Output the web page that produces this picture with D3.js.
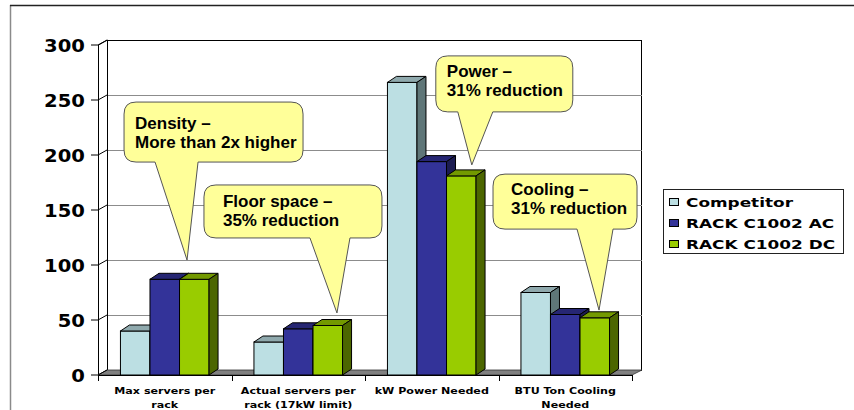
<!DOCTYPE html>
<html><head><meta charset="utf-8">
<script src="https://cdn.jsdelivr.net/npm/d3@7"></script>
<style>html,body{margin:0;padding:0;background:#fff;}svg{display:block;}</style>
</head><body>
<svg id="chart" width="854" height="410"></svg>
<script>
// ---- data ----
const categories = ["Max servers per rack", "Actual servers per rack (17kW limit)", "kW Power Needed", "BTU Ton Cooling Needed"];
const categoryLines = [["Max servers per", "rack"], ["Actual servers per", "rack (17kW limit)"], ["kW Power Needed"], ["BTU Ton Cooling", "Needed"]];
const seriesNames = ["Competitor", "RACK C1002 AC", "RACK C1002 DC"];
const competitor = [40, 30, 266, 75];
const rackAC = [87, 42, 194, 55];
const rackDC = [87, 45, 181, 52];
const yTicks = [0, 50, 100, 150, 200, 250, 300];
const calloutText = [["Density –", "More than 2x higher"], ["Floor space –", "35% reduction"], ["Power –", "31% reduction"], ["Cooling –", "31% reduction"]];

// ---- layout / style ----
const seriesValues = [competitor, rackAC, rackDC];
const colors = [
  {front: "#BCDFE3", top: "#8FA9AD", side: "#5F7678"},
  {front: "#333399", top: "#262673", side: "#1C1C52"},
  {front: "#99CC00", top: "#739900", side: "#4C6600"}
];
const plot = {left: 98, right: 632, bottom: 375, top: 45};
const depth = {dx: 9, dy: -5};
const barDepth = {dx: 9, dy: -6};
// callout layout: category index, tip position within band (fraction), tip value, box offsets relative to tip
const calloutLayout = [
  {cat: 0, frac: 0.667, val: 104.5, box: [-63, -158, 116, -98],  base: [-32, 11], tdx: 11, tdy: 26.5},
  {cat: 1, frac: 0.79,  val: 56.4,  box: [-133, -128, 45, -75],  base: [-27, 13], tdx: 19, tdy: 22},
  {cat: 2, frac: 0.80,  val: 191,   box: [-36, -109, 101, -53],  base: [-14, 21], tdx: 11, tdy: 21},
  {cat: 3, frac: 0.753, val: 59,    box: [-106, -136, 38, -81],  base: [-22, 14], tdx: 18, tdy: 20.5}
];

const svg = d3.select("#chart");

// outer frame
svg.append("line").attr("x1", 10.5).attr("y1", 5).attr("x2", 10.5).attr("y2", 410).attr("stroke", "#8a8a8a").attr("stroke-width", 1.5);
svg.append("line").attr("x1", 10).attr("y1", 5.5).attr("x2", 854).attr("y2", 5.5).attr("stroke", "#222").attr("stroke-width", 1.5);

// scales
const y = d3.scaleLinear().domain([0, 300]).range([plot.bottom, plot.top]);
const x0 = d3.scaleBand().domain(categories).range([plot.left, plot.right]).padding(0);
const x1 = d3.scaleBand().domain(seriesNames).range([0, x0.bandwidth()]).paddingInner(0).paddingOuter(0.76);

const g = svg.append("g");

// back wall
g.append("rect")
  .attr("x", plot.left + depth.dx + 0.5).attr("y", y(300) + depth.dy + 0.5)
  .attr("width", (plot.right - plot.left)).attr("height", y(0) - y(300))
  .attr("fill", "#fff").attr("stroke", "#000").attr("stroke-width", 1);

// gridlines on back wall
g.selectAll("line.grid").data(yTicks.filter(t => t > 0 && t < 300)).join("line")
  .attr("class", "grid")
  .attr("x1", plot.left + depth.dx).attr("x2", plot.right + depth.dx + 1)
  .attr("y1", d => Math.round(y(d) + depth.dy) + 0.5).attr("y2", d => Math.round(y(d) + depth.dy) + 0.5)
  .attr("stroke", "#8c8c8c").attr("stroke-width", 1);

// left side wall
g.append("path")
  .attr("d", `M${plot.left + 0.5},${y(300)} L${plot.left + depth.dx + 0.5},${y(300) + depth.dy} L${plot.left + depth.dx + 0.5},${y(0) + depth.dy} L${plot.left + 0.5},${y(0)} Z`)
  .attr("fill", "#fff").attr("stroke", "#000").attr("stroke-width", 1);

// floor
g.append("path")
  .attr("d", `M${plot.left},${y(0)} L${plot.left + depth.dx},${y(0) + depth.dy} L${plot.right + depth.dx + 1},${y(0) + depth.dy} L${plot.right},${y(0)} Z`)
  .attr("fill", "#808080").attr("stroke", "#333").attr("stroke-width", 0.8);

// y ticks (front to wall)
g.selectAll("path.ytick").data(yTicks).join("path")
  .attr("class", "ytick")
  .attr("d", d => `M${plot.left - 7},${y(d)} L${plot.left},${y(d)} L${plot.left + depth.dx},${y(d) + depth.dy}`)
  .attr("fill", "none").attr("stroke", "#000").attr("stroke-width", 1);

// y labels
const yl = svg.selectAll("g.ylab").data(yTicks).join("g")
  .attr("class", "ylab")
  .attr("transform", d => `translate(${plot.left - 13},${y(d) + 7}) scale(1.12,1)`);
yl.append("text").attr("text-anchor", "end")
  .attr("font-family", "DejaVu Sans").attr("font-weight", "bold").attr("font-size", 17.5)
  .attr("fill", "#000").text(d => d);

// x ticks
const catEdges = categories.map(c => x0(c)).concat([plot.right]);
g.selectAll("line.xtick").data(catEdges).join("line")
  .attr("class", "xtick")
  .attr("x1", d => Math.round(d) + 0.5).attr("x2", d => Math.round(d) + 0.5)
  .attr("y1", y(0)).attr("y2", y(0) + 6)
  .attr("stroke", "#000").attr("stroke-width", 1);
g.append("line").attr("x1", plot.left).attr("x2", plot.right).attr("y1", y(0) + 0.5).attr("y2", y(0) + 0.5).attr("stroke", "#000");

// bars
const barData = [];
categories.forEach((c, ci) => {
  seriesNames.forEach((s, si) => {
    barData.push({cat: c, series: s, si, value: seriesValues[si][ci]});
  });
});
const w = x1.bandwidth();
const bars = g.selectAll("g.bar").data(barData).join("g").attr("class", "bar");
bars.append("rect")
  .attr("x", d => x0(d.cat) + x1(d.series)).attr("y", d => y(d.value))
  .attr("width", w).attr("height", d => y(0) - y(d.value))
  .attr("fill", d => colors[d.si].front).attr("stroke", "#000").attr("stroke-width", 1);
bars.append("path")
  .attr("d", d => {
    const bx = x0(d.cat) + x1(d.series), by = y(d.value);
    return `M${bx},${by} L${bx + barDepth.dx},${by + barDepth.dy} L${bx + w + barDepth.dx},${by + barDepth.dy} L${bx + w},${by} Z`;
  })
  .attr("fill", d => colors[d.si].top).attr("stroke", "#000").attr("stroke-width", 1).attr("stroke-linejoin", "round");
bars.append("path")
  .attr("d", d => {
    const bx = x0(d.cat) + x1(d.series) + w, by = y(d.value), b0 = y(0);
    return `M${bx},${by} L${bx + barDepth.dx},${by + barDepth.dy} L${bx + barDepth.dx},${b0 + barDepth.dy} L${bx},${b0} Z`;
  })
  .attr("fill", d => colors[d.si].side).attr("stroke", "#000").attr("stroke-width", 1).attr("stroke-linejoin", "round");

// category labels
categories.forEach((c, ci) => {
  const cx = x0(c) + x0.bandwidth() / 2;
  categoryLines[ci].forEach((line, li) => {
    svg.append("g").attr("transform", `translate(${cx},${394 + li * 13.5}) scale(1.17,1)`)
      .append("text").attr("text-anchor", "middle")
      .attr("font-family", "DejaVu Sans").attr("font-weight", "bold").attr("font-size", 9.5)
      .attr("fill", "#000").text(line);
  });
});

// legend
const legend = svg.append("g");
legend.append("rect").attr("x", 663.5).attr("y", 189.5).attr("width", 180).attr("height", 64)
  .attr("fill", "#fff").attr("stroke", "#222").attr("stroke-width", 1);
seriesNames.forEach((s, si) => {
  const cy = 202 + si * 21;
  legend.append("rect").attr("x", 669.5).attr("y", cy - 3.5).attr("width", 9).attr("height", 7)
    .attr("fill", colors[si].front).attr("stroke", "#000").attr("stroke-width", 1);
  legend.append("g").attr("transform", `translate(686,${cy + 5}) scale(1.3,1)`)
    .append("text").attr("font-family", "DejaVu Sans").attr("font-weight", "bold").attr("font-size", 13)
    .attr("fill", "#000").text(s);
});

// callouts
calloutLayout.forEach((cl, i) => {
  const tx = x0(categories[cl.cat]) + cl.frac * x0.bandwidth();
  const ty = y(cl.val);
  const X1 = tx + cl.box[0], Y1 = ty + cl.box[1], X2 = tx + cl.box[2], Y2 = ty + cl.box[3];
  const b1 = tx + cl.base[0], b2 = tx + cl.base[1];
  const r = 12;
  const p = `M${X1 + r},${Y1} H${X2 - r} Q${X2},${Y1} ${X2},${Y1 + r} V${Y2 - r} Q${X2},${Y2} ${X2 - r},${Y2} H${b2} L${tx},${ty} L${b1},${Y2} H${X1 + r} Q${X1},${Y2} ${X1},${Y2 - r} V${Y1 + r} Q${X1},${Y1} ${X1 + r},${Y1} Z`;
  svg.append("path").attr("d", p).attr("fill", "#FFFF99").attr("stroke", "#555").attr("stroke-width", 1);
  calloutText[i].forEach((line, li) => {
    svg.append("text").attr("x", X1 + cl.tdx).attr("y", Y1 + cl.tdy + li * 19)
      .attr("font-family", "Liberation Sans, Arial, sans-serif").attr("font-weight", "bold").attr("font-size", 17)
      .attr("fill", "#000").text(line);
  });
});
</script>
</body></html>
